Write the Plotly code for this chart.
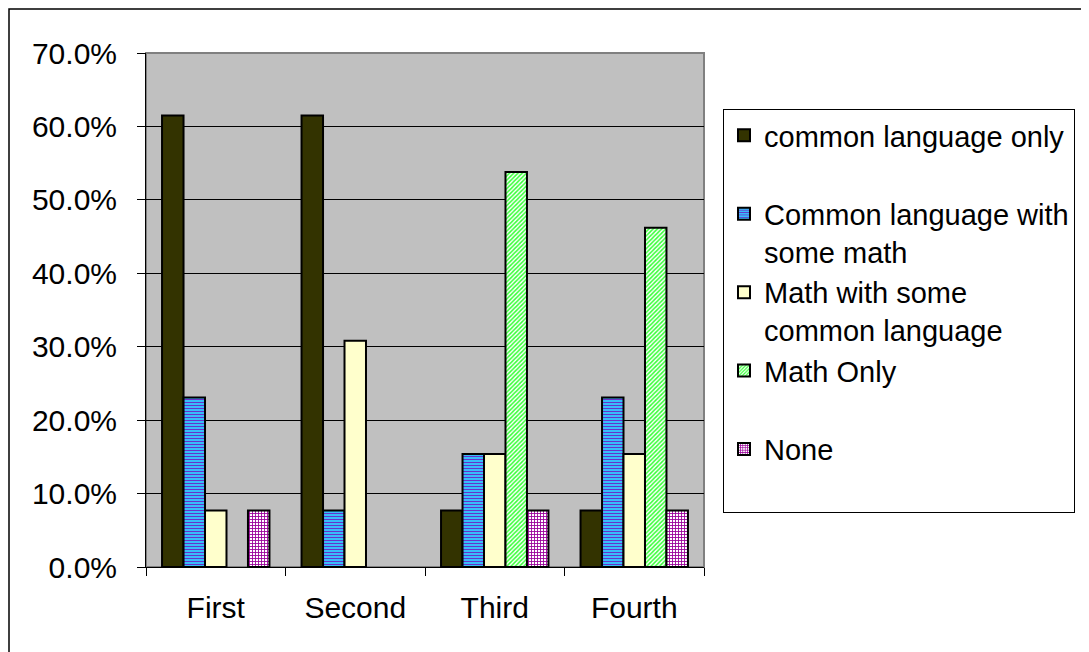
import plotly.graph_objects as go

categories = ["First", "Second", "Third", "Fourth"]
series_names = [
    "common language only",
    "Common language with<br>some math",
    "Math with some<br>common language",
    "Math Only",
    "None",
]
common_language_only = [0.615, 0.615, 0.077, 0.077]
common_with_some_math = [0.231, 0.077, 0.154, 0.231]
math_with_some_common = [0.077, 0.308, 0.154, 0.154]
math_only = [0.0, 0.0, 0.538, 0.462]
none_values = [0.077, 0.0, 0.077, 0.077]
y_tick_values = [0.0, 0.1, 0.2, 0.3, 0.4, 0.5, 0.6, 0.7]

series_values = [
    common_language_only,
    common_with_some_math,
    math_with_some_common,
    math_only,
    none_values,
]

styles = [
    dict(color="#333300", pattern=dict(shape="")),
    dict(color="#33CCFF", pattern=dict(shape="-", fgcolor="#6633CC", bgcolor="#33CCFF", size=3, solidity=0.4, fillmode="replace")),
    dict(color="#FFFFCC", pattern=dict(shape="")),
    dict(color="#99FF99", pattern=dict(shape="/", fgcolor="#33FF33", bgcolor="#FFFFFF", size=3, solidity=0.5, fillmode="replace")),
    dict(color="#FFFFFF", pattern=dict(shape="+", fgcolor="#990099", bgcolor="#FFFFFF", size=3, solidity=0.5, fillmode="replace")),
]

FONT = "Arial, 'Liberation Sans', sans-serif"

fig = go.Figure()
for i, (name, vals, st) in enumerate(zip(series_names, series_values, styles)):
    label = name if "<br>" in name else name + "<br>\u00a0"
    fig.add_trace(go.Bar(
        x=categories, y=[v if v > 0 else None for v in vals],
        name=label, legendgroup=f"g{i}",
        marker=dict(color=st["color"], pattern=st["pattern"],
                    line=dict(color="#000000", width=2)),
    ))

# page body has an 8px margin; figure sized to fit window
OFF = 8
W, H = 1089 - OFF, 652 - OFF
ml, mt = 146 - OFF, 53 - OFF
mr = W - (704 - OFF)
mb = H - (567 - OFF)
pw = W - ml - mr
ph = H - mt - mb

def px_x(p):
    return (p - OFF - ml) / pw

def px_y(p):
    return (H - mb - (p - OFF)) / ph

fig.update_layout(
    width=W, height=H,
    margin=dict(l=ml, r=mr, t=mt, b=mb, autoexpand=False),
    paper_bgcolor="white",
    plot_bgcolor="#C0C0C0",
    barmode="group",
    bargap=0.23,
    bargroupgap=0,
    font=dict(family=FONT, size=30, color="black"),
    showlegend=True,
    legend=dict(
        x=px_x(723), y=px_y(109), xanchor="left", yanchor="top",
        xref="paper", yref="paper",
        bordercolor="black", borderwidth=1, bgcolor="white",
        font=dict(family=FONT, size=29, color="black"),
        valign="top", tracegroupgap=0, traceorder="normal",
        itemclick=False,
    ),
    xaxis=dict(
        showline=True, linecolor="black", linewidth=1,
        ticks="outside", tickson="boundaries", ticklen=8, tickcolor="black",
        showgrid=False, ticklabelstandoff=14,
        tickfont=dict(size=30),
    ),
    yaxis=dict(
        range=[0, 0.7], tickvals=y_tick_values, tickformat=".1%",
        showline=True, linecolor="black", linewidth=1,
        ticks="outside", ticklen=8, tickcolor="black",
        showgrid=True, gridcolor="black", gridwidth=1,
        zeroline=False, ticklabelstandoff=14,
        tickfont=dict(size=30),
    ),
    shapes=[
        dict(type="rect", xref="paper", yref="paper", x0=0, x1=1, y0=0, y1=1,
             line=dict(color="#808080", width=2), layer="below"),
        dict(type="rect", xref="paper", yref="paper",
             x0=px_x(9), x1=px_x(1089 + 20), y0=px_y(652 + 20), y1=px_y(9),
             line=dict(color="black", width=1.5), fillcolor="rgba(0,0,0,0)"),
    ],
)

fig.write_html("out.html")
